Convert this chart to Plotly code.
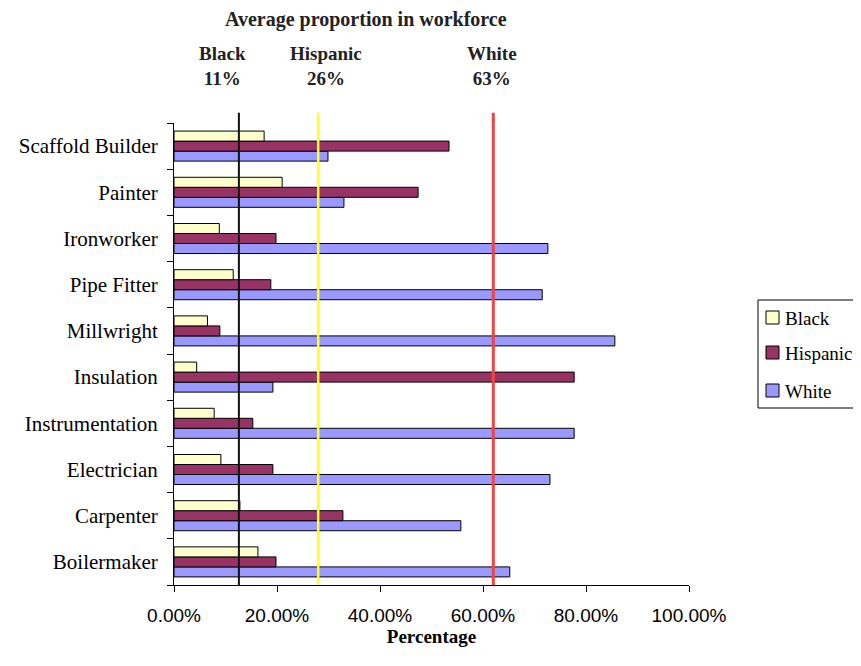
import plotly.graph_objects as go

# Occupations, bottom to top as drawn
trades = ["Boilermaker", "Carpenter", "Electrician", "Instrumentation", "Insulation",
          "Millwright", "Pipe Fitter", "Ironworker", "Painter", "Scaffold Builder"]

black = [0.163, 0.128, 0.091, 0.078, 0.044, 0.065, 0.115, 0.088, 0.210, 0.175]
hispanic = [0.198, 0.328, 0.192, 0.153, 0.777, 0.089, 0.188, 0.198, 0.474, 0.534]
white = [0.652, 0.557, 0.730, 0.777, 0.192, 0.856, 0.715, 0.726, 0.330, 0.299]

# Average proportion in workforce (line positions and labels)
avg_names = ["Black", "Hispanic", "White"]
avg_labels = ["11%", "26%", "63%"]
avg_pos = [0.126, 0.280, 0.620]

series_names = ["Black", "Hispanic", "White"]
series_colors = ["#FFFFCC", "#993366", "#9999FF"]

serif = "Liberation Serif"

fig = go.Figure()

# added bottom-first so Black sits on top of each group
for name, vals, col in zip(series_names[::-1], [white, hispanic, black], series_colors[::-1]):
    fig.add_trace(go.Bar(y=trades, x=vals, name=name, orientation="h",
                         marker=dict(color=col, line=dict(color="black", width=1))))

line_colors = ["#111111", "#FFFF22", "#EE4444"]
line_widths = [2, 2.5, 3]
for pos, col, w in zip(avg_pos, line_colors, line_widths):
    fig.add_shape(type="line", xref="x", yref="paper", x0=pos, x1=pos, y0=0, y1=1.022,
                  line=dict(color=col, width=w), layer="above")

# page has an 8px body margin; positions below are in screenshot pixels
OFF = 8
L, T, W, H = 174 - OFF, 123 - OFF, 515, 462
def px(xp):
    return (xp - OFF - L) / W
def py(yp):
    return (T + H - (yp - OFF)) / H

fig.add_annotation(text="<b>Average proportion in workforce</b>", xref="paper", yref="paper",
                   x=px(366), y=py(19), xanchor="center", yanchor="middle", showarrow=False,
                   font=dict(family=serif, size=20, color="#222"))
for name, lab, xp in zip(avg_names, avg_labels, [222, 326, 492]):
    fig.add_annotation(text=f"<b>{name}</b><br><b>{lab}</b>", xref="paper", yref="paper",
                       x=px(xp), y=py(66), xanchor="center", yanchor="middle", showarrow=False,
                       font=dict(family=serif, size=19, color="#222"))

# legend box drawn by hand to match the tight icon/text spacing
fig.add_shape(type="rect", xref="paper", yref="paper", x0=px(758), x1=px(880), y0=py(408), y1=py(300),
              line=dict(color="black", width=1), fillcolor="white")
for name, col, yc in zip(series_names, series_colors, [318, 353, 391]):
    fig.add_shape(type="rect", xref="paper", yref="paper", x0=px(766), x1=px(779),
                  y0=py(yc + 6), y1=py(yc - 7), line=dict(color="black", width=1), fillcolor=col)
    fig.add_annotation(text=name, xref="paper", yref="paper", x=px(783), y=py(yc),
                       xanchor="left", yanchor="middle", showarrow=False,
                       font=dict(family=serif, size=19, color="black"))

fig.update_layout(
    width=861 - OFF, height=666 - OFF,
    margin=dict(l=L, r=861 - OFF - L - W, t=T, b=666 - OFF - T - H, autoexpand=False),
    paper_bgcolor="white", plot_bgcolor="white",
    barmode="group", bargap=0.35, bargroupgap=0,
    showlegend=False,
    xaxis=dict(range=[0, 1], tickvals=[0, 0.2, 0.4, 0.6, 0.8, 1.0], tickformat=".2%",
               showgrid=False, zeroline=False, showline=True, linecolor="black", linewidth=1,
               ticks="outside", ticklen=6, tickcolor="black", ticklabelstandoff=7,
               tickfont=dict(family="Liberation Sans", size=19, color="black"),
               title=dict(text="<b>Percentage</b>", standoff=0,
                          font=dict(family=serif, size=19, color="black"))),
    yaxis=dict(showgrid=False, zeroline=False, showline=True, linecolor="black", linewidth=1,
               ticks="outside", ticklen=6, tickcolor="black", tickson="boundaries",
               ticklabelstandoff=11,
               tickfont=dict(family=serif, size=21, color="black")),
)

fig.write_html("out.html")
